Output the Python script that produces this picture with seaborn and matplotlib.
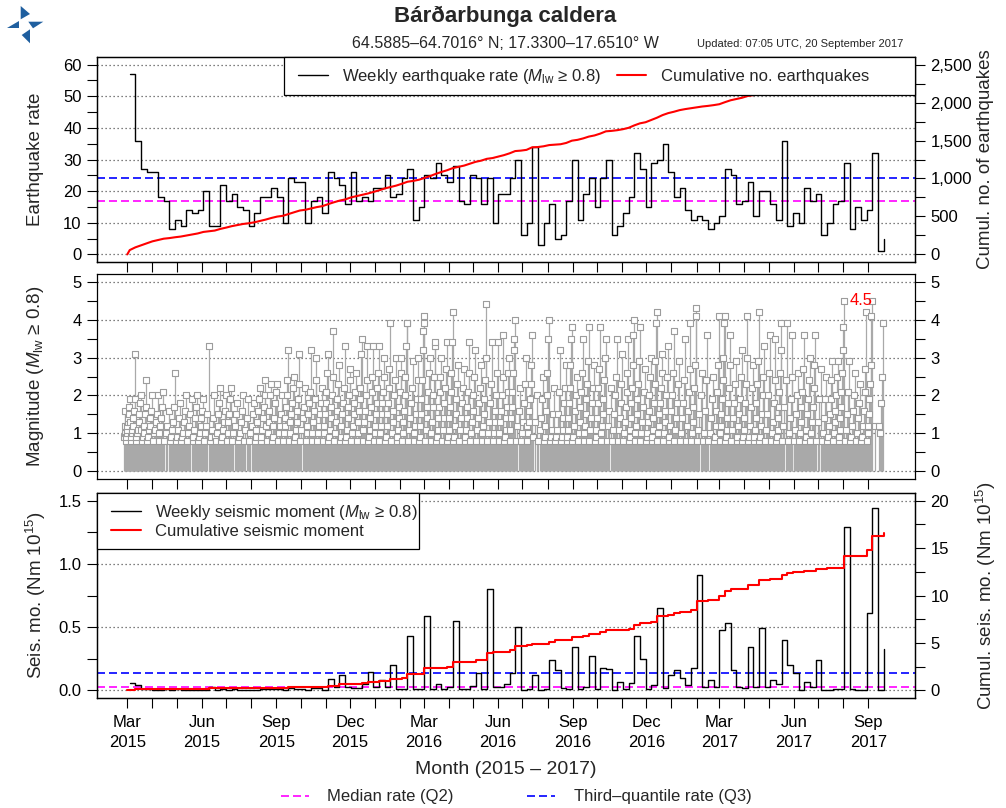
import numpy as np
import pandas as pd
import matplotlib
matplotlib.use("Agg")
import matplotlib.pyplot as plt
import matplotlib.dates as mdates
from matplotlib.lines import Line2D
from matplotlib.patches import Rectangle, Polygon
from matplotlib.ticker import MultipleLocator, FixedLocator, FixedFormatter, FuncFormatter
import seaborn as sns

# ---------------------------------------------------------------- data
RECORD_START = "2015-03-01"
LAST_WEEK_END = "2017-09-20"

# earthquakes per week (week ending on each date)
WEEKLY_RATE = [
    57, 36, 27, 26, 26, 18, 17, 8, 11, 9,
    14, 13, 14, 20, 9, 9, 22, 17, 19, 15,
    14, 9, 13, 18, 18, 21, 18, 10, 24, 23,
    23, 10, 17, 18, 13, 26, 24, 22, 16, 26,
    17, 18, 17, 21, 21, 25, 18, 19, 24, 27,
    11, 15, 25, 24, 29, 25, 23, 28, 17, 16,
    25, 24, 16, 24, 10, 19, 19, 24, 30, 6,
    10, 34, 3, 10, 16, 5, 6, 17, 30, 11,
    19, 24, 15, 24, 30, 6, 9, 13, 18, 32,
    27, 15, 29, 30, 35, 26, 18, 21, 14, 11,
    12, 11, 8, 10, 12, 27, 25, 16, 17, 23,
    12, 20, 20, 16, 11, 36, 9, 13, 10, 21,
    17, 19, 6, 10, 16, 17, 29, 8, 15, 11,
    14, 32, 1, 5,
]

# seismic moment released per week (Nm 10^15)
WEEKLY_MOMENT = [
    0.06, 0.04, 0.008, 0.01, 0.006, 0.006, 0.008, 0.003, 0.01, 0.004,
    0.006, 0.004, 0.006, 0.006, 0.03, 0.004, 0.008, 0.006, 0.008, 0.004,
    0.006, 0.004, 0.004, 0.008, 0.01, 0.008, 0.01, 0.004, 0.02, 0.01,
    0.015, 0.005, 0.02, 0.02, 0.006, 0.09, 0.03, 0.12, 0.03, 0.02,
    0.02, 0.05, 0.145, 0.03, 0.085, 0.03, 0.20, 0.015, 0.015, 0.43,
    0.012, 0.015, 0.59, 0.012, 0.05, 0.012, 0.03, 0.55, 0.01, 0.01,
    0.035, 0.14, 0.01, 0.80, 0.03, 0.03, 0.05, 0.14, 0.50, 0.005,
    0.015, 0.12, 0.005, 0.01, 0.24, 0.16, 0.02, 0.01, 0.34, 0.008,
    0.03, 0.27, 0.01, 0.18, 0.17, 0.004, 0.07, 0.015, 0.06, 0.43,
    0.25, 0.01, 0.04, 0.65, 0.02, 0.12, 0.16, 0.10, 0.04, 0.18,
    0.91, 0.03, 0.08, 0.03, 0.48, 0.53, 0.16, 0.03, 0.02, 0.34,
    0.03, 0.49, 0.03, 0.08, 0.05, 0.40, 0.20, 0.14, 0.005, 0.07,
    0.03, 0.24, 0.004, 0.003, 0.01, 0.01, 1.29, 0.01, 0.006, 0.004,
    0.61, 1.44, 0.001, 0.33,
]

# magnitudes recorded in each week (largest first)
WEEKLY_MAGNITUDES = [
    "1.9 1.7 1.5 1.4 1.3 1.2 1.1 1.0 0.9 0.8 1.6 1.2 1.0 0.9",
    "3.1 1.9 1.6 1.4 1.2 1.1 1.0 0.9 0.8 1.3",
    "2.0 1.8 1.5 1.3 1.1 1.0 0.9 0.8",
    "2.4 1.7 1.5 1.2 1.0 0.9 0.8 1.1",
    "2.0 1.6 1.4 1.2 1.1 0.9 0.8",
    "2.0 1.5 1.3 1.1 1.0 0.8",
    "2.1 1.7 1.4 1.2 1.0 0.8",
    "1.6 1.2 1.0 0.8",
    "2.6 1.7 1.3 1.1 0.9 0.8",
    "1.8 1.4 1.1 0.9 0.8",
    "2.0 1.6 1.3 1.0 0.9 0.8",
    "1.9 1.5 1.2 1.0 0.8",
    "2.0 1.7 1.4 1.1 0.9 0.8",
    "1.9 1.6 1.4 1.2 1.0 0.9 0.8",
    "3.3 1.5 1.2 1.0 0.8",
    "2.0 1.4 1.1 0.9 0.8",
    "2.2 1.8 1.5 1.2 1.0 0.8 0.9",
    "2.0 1.6 1.3 1.1 0.9 0.8",
    "2.2 1.9 1.5 1.3 1.0 0.8",
    "1.8 1.5 1.2 1.0 0.8",
    "2.0 1.6 1.3 1.0 0.9 0.8",
    "1.9 1.4 1.1 0.8",
    "1.8 1.5 1.2 1.0 0.8",
    "2.2 1.9 1.6 1.3 1.1 0.9 0.8",
    "2.4 2.0 1.7 1.4 1.1 0.9 0.8",
    "2.3 2.0 1.6 1.3 1.0 0.8 1.2",
    "2.3 2.1 1.8 1.4 1.2 0.9 0.8",
    "2.0 1.5 1.2 1.0 0.8",
    "3.2 2.4 2.0 1.7 1.4 1.2 1.0 0.8",
    "2.5 2.2 1.8 1.5 1.3 1.0 0.8",
    "3.1 2.3 1.9 1.6 1.3 1.1 0.9 0.8",
    "2.2 1.7 1.4 1.1 0.8",
    "3.2 2.1 1.8 1.5 1.2 1.0 0.8",
    "3.0 2.4 1.9 1.6 1.3 1.0 0.8",
    "2.2 1.8 1.5 1.2 1.0 0.8",
    "3.1 2.6 2.1 1.8 1.5 1.2 1.0 0.8",
    "3.7 2.5 2.0 1.7 1.4 1.1 0.9 0.8",
    "2.8 2.3 1.9 1.6 1.3 1.0 0.8",
    "3.3 2.2 1.8 1.5 1.2 0.9 0.8",
    "2.7 2.4 2.0 1.7 1.4 1.1 0.9 0.8",
    "2.6 2.1 1.8 1.5 1.2 1.0 0.8",
    "3.5 3.1 2.2 1.9 1.6 1.3 1.0 0.8",
    "3.3 2.4 2.0 1.6 1.3 1.1 0.8",
    "3.3 2.5 2.1 1.7 1.4 1.1 0.9 0.8",
    "3.3 2.6 2.2 1.8 1.5 1.2 1.0 0.8",
    "3.0 2.5 2.1 1.8 1.5 1.2 1.0 0.8",
    "3.9 2.7 2.2 1.8 1.5 1.2 0.9 0.8",
    "3.0 2.4 2.0 1.6 1.3 1.0 0.8",
    "3.0 2.6 2.1 1.7 1.4 1.1 0.9 0.8",
    "3.9 3.9 3.3 2.5 2.0 1.6 1.3 1.0 0.8",
    "2.9 2.2 1.8 1.4 1.1 0.8",
    "3.0 2.4 1.9 1.5 1.2 1.0 0.8",
    "4.1 3.9 3.7 3.2 2.4 1.9 1.5 1.2 0.9 0.8",
    "3.0 2.6 2.1 1.7 1.4 1.1 0.8",
    "3.4 3.3 2.5 2.0 1.7 1.3 1.0 0.8",
    "3.0 2.5 2.1 1.7 1.4 1.1 0.9 0.8",
    "3.4 2.7 2.2 1.8 1.4 1.1 0.8",
    "4.2 3.4 2.6 2.1 1.7 1.4 1.1 0.9 0.8",
    "2.8 2.3 1.9 1.5 1.2 0.9 0.8",
    "2.7 2.2 1.8 1.4 1.1 0.8",
    "3.4 2.6 2.1 1.7 1.4 1.1 0.9 0.8",
    "3.2 2.5 2.0 1.6 1.3 1.0 0.8",
    "2.8 2.2 1.8 1.4 1.1 0.8",
    "4.4 3.0 2.4 1.9 1.5 1.2 1.0 0.8",
    "3.4 2.3 1.8 1.3 1.0 0.8",
    "3.4 2.6 2.0 1.6 1.3 1.0 0.8",
    "3.6 2.5 2.0 1.6 1.3 1.0 0.8",
    "3.0 2.6 2.1 1.7 1.4 1.1 0.9 0.8",
    "4.0 3.5 3.2 2.6 2.1 1.7 1.4 1.1 0.8",
    "2.2 1.6 1.2 0.8",
    "3.0 2.3 1.8 1.3 1.0 0.8",
    "3.6 2.8 2.3 1.9 1.6 1.3 1.0 0.8 1.2",
    "2.0 1.3 0.9",
    "2.5 1.9 1.4 1.1 0.8",
    "4.0 3.5 2.6 2.0 1.6 1.2 0.9 0.8",
    "2.2 1.5 1.1 0.9 0.8",
    "3.2 2.1 1.5 1.1 0.9 0.8",
    "2.8 2.2 1.8 1.4 1.1 0.9 0.8",
    "3.8 3.5 2.8 2.2 1.8 1.4 1.1 0.9 0.8",
    "2.5 2.0 1.6 1.2 0.9 0.8",
    "3.5 2.6 2.1 1.7 1.3 1.0 0.8",
    "3.8 2.9 2.3 1.9 1.5 1.2 1.0 0.8",
    "2.8 2.2 1.8 1.4 1.1 0.8",
    "3.8 2.7 2.2 1.8 1.4 1.1 0.9 0.8",
    "3.5 3.0 2.4 1.9 1.5 1.2 1.0 0.8",
    "2.2 1.6 1.2 0.8",
    "3.5 2.5 2.0 1.5 1.1 0.8",
    "3.1 2.3 1.8 1.4 1.1 0.8",
    "3.5 2.6 2.1 1.7 1.3 1.0 0.8",
    "4.0 3.6 2.8 2.2 1.8 1.4 1.1 0.9 0.8",
    "3.8 2.9 2.3 1.9 1.5 1.2 1.0 0.8",
    "2.7 2.1 1.7 1.3 1.0 0.8",
    "3.0 2.5 2.0 1.6 1.3 1.0 0.9 0.8",
    "4.2 3.9 2.9 2.3 1.8 1.4 1.1 0.9 0.8",
    "3.1 2.6 2.2 1.8 1.5 1.2 1.0 0.8",
    "3.3 2.5 2.0 1.6 1.3 1.0 0.8",
    "3.7 2.6 2.0 1.6 1.2 0.9 0.8",
    "2.9 2.3 1.8 1.4 1.1 0.8",
    "3.5 2.4 1.8 1.4 1.0 0.8",
    "3.9 2.7 2.1 1.6 1.2 0.8",
    "4.3 4.1 2.8 2.2 1.7 1.3 1.0 0.8",
    "2.6 2.0 1.5 1.1 0.8",
    "3.6 2.4 1.6 1.0 0.8",
    "2.5 1.9 1.4 1.0 0.8",
    "4.1 2.8 2.1 1.6 1.2 0.9 0.8",
    "4.1 3.9 3.0 2.4 1.9 1.5 1.2 1.0 0.8",
    "3.6 2.8 2.2 1.8 1.4 1.1 0.9 0.8",
    "2.9 2.3 1.8 1.4 1.1 0.8",
    "3.2 2.5 1.9 1.5 1.2 0.9 0.8",
    "4.1 3.0 2.3 1.8 1.4 1.1 0.9 0.8",
    "2.8 2.2 1.7 1.2 0.9 0.8",
    "4.2 2.9 2.3 1.8 1.4 1.1 0.9 0.8",
    "3.3 2.5 2.0 1.5 1.2 0.9 0.8",
    "3.6 2.6 2.0 1.5 1.1 0.8",
    "3.5 2.4 1.8 1.3 1.0 0.8",
    "3.9 3.2 2.6 2.1 1.7 1.4 1.1 0.9 0.8",
    "3.9 2.4 1.7 1.2 0.8",
    "3.6 2.5 1.9 1.4 1.0 0.8",
    "2.6 2.0 1.5 1.1 0.8",
    "3.6 2.7 2.1 1.7 1.3 1.0 0.8",
    "3.0 2.4 1.9 1.5 1.1 0.9 0.8",
    "3.6 2.8 2.2 1.7 1.3 1.0 0.8",
    "2.7 1.9 1.3 0.8",
    "2.5 1.9 1.4 1.0 0.8",
    "2.9 2.4 1.9 1.5 1.2 0.9 0.8",
    "2.9 2.5 2.0 1.6 1.3 1.0 0.8",
    "4.5 3.8 3.2 2.6 2.1 1.7 1.4 1.1 0.9 0.8",
    "2.9 2.1 1.5 1.1 0.8",
    "2.6 2.0 1.6 1.2 0.9 0.8",
    "2.3 1.8 1.4 1.0 0.8",
    "4.2 2.7 2.1 1.6 1.2 0.9 0.8",
    "4.5 4.1 2.8 2.3 1.9 1.5 1.2 1.0 0.8",
    "1.2",
    "3.9 2.5 1.8 1.0 1.2",
]

RATE_Q2, RATE_Q3 = 17, 24            # median / third quartile of weekly rate
MOMENT_Q2, MOMENT_Q3 = 0.03, 0.135   # median / third quartile of weekly moment

MONTH_TICKS = pd.date_range("2015-03-01", "2017-09-01", freq="MS")

# ---------------------------------------------------------------- tables
weeks = pd.date_range(end=LAST_WEEK_END, periods=len(WEEKLY_RATE), freq="7D")
rate_df = pd.DataFrame({"week": weeks, "rate": WEEKLY_RATE})
moment_df = pd.DataFrame({"week": weeks, "moment": WEEKLY_MOMENT})

cum_df = pd.DataFrame({
    "time": [pd.Timestamp(RECORD_START)] + list(weeks),
    "count": [0] + list(np.cumsum(WEEKLY_RATE)),
    "moment": [0.0] + list(np.cumsum(WEEKLY_MOMENT)),
})

rows = []
for wk, text in zip(weeks, WEEKLY_MAGNITUDES):
    mags = [float(v) for v in text.split()]
    n = len(mags)
    for j, m in enumerate(mags):
        rows.append((wk - pd.Timedelta(days=7 * (j + 0.5) / n), m))
events = pd.DataFrame(rows, columns=["time", "mag"]).sort_values("time").reset_index(drop=True)

# ---------------------------------------------------------------- style
sns.set_theme(style="ticks")
plt.rcParams["font.family"] = ["Liberation Sans", "DejaVu Sans"]
plt.rcParams["mathtext.fontset"] = "custom"
plt.rcParams["mathtext.rm"] = "Liberation Sans"
plt.rcParams["mathtext.it"] = "Liberation Sans:italic"
plt.rcParams["mathtext.bf"] = "Liberation Sans:bold"
plt.rcParams["axes.edgecolor"] = "black"
plt.rcParams["axes.linewidth"] = 0.9

W, H = 1006, 808
fig = plt.figure(figsize=(W / 100, H / 100), dpi=100)


def fx(px):
    return px / W


def fy(py):
    return 1 - py / H


AX_L, AX_R = 97, 915
PANEL_H = 205
ax1 = fig.add_axes([fx(AX_L), fy(262), (AX_R - AX_L) / W, PANEL_H / H])
ax2 = fig.add_axes([fx(AX_L), fy(479), (AX_R - AX_L) / W, PANEL_H / H])
ax3 = fig.add_axes([fx(AX_L), fy(698), (AX_R - AX_L) / W, PANEL_H / H])
ax1r = ax1.twinx()
ax3r = ax3.twinx()

x_lo = mdates.date2num(pd.Timestamp("2015-03-01")) - 37.4
x_hi = mdates.date2num(pd.Timestamp("2017-09-01")) + 57.7

GRID = dict(color="#555555", linestyle=(0, (1, 2.2)), linewidth=0.9)
TICKS = dict(direction="out", length=7, width=0.8, labelsize=12, colors="black", pad=4)
Q2_STYLE = dict(color="#ff00ff", linestyle=(0, (4.8, 2.4)), linewidth=1.2)
Q3_STYLE = dict(color="#0000ff", linestyle=(0, (4.8, 2.4)), linewidth=1.2)

# ---------------------------------------------------------------- panel 1: weekly rate
sns.lineplot(data=rate_df, x="week", y="rate", drawstyle="steps-post",
             color="black", linewidth=1.0, estimator=None, ax=ax1, zorder=3)
ax1.axhline(RATE_Q2, zorder=2, **Q2_STYLE)
ax1.axhline(RATE_Q3, zorder=2, **Q3_STYLE)
sns.lineplot(data=cum_df, x="time", y="count", color="red", linewidth=1.5,
             estimator=None, ax=ax1r)
ax1.set_ylim(-2.4, 62.4)
ax1r.set_ylim(-2.4 * 2500 / 60, 62.4 * 2500 / 60)
ax1.yaxis.set_major_locator(MultipleLocator(10))
ax1.yaxis.set_minor_locator(MultipleLocator(5))
ax1r.yaxis.set_major_locator(MultipleLocator(500))
ax1r.yaxis.set_minor_locator(MultipleLocator(250))
ax1r.yaxis.set_major_formatter(FuncFormatter(lambda v, p: f"{int(v):,}"))

# ---------------------------------------------------------------- panel 2: magnitudes
ax2.vlines(events["time"], 0, events["mag"], color="#a9a9a9", linewidth=0.9, zorder=2)
sns.scatterplot(data=events, x="time", y="mag", marker="s", s=24, color="white",
                edgecolor="#9c9c9c", linewidth=0.8, ax=ax2, zorder=3, legend=False)
top = events.loc[events["mag"].idxmax()]
ax2.annotate(f"{top['mag']:.1f}", xy=(mdates.date2num(top["time"]), top["mag"]),
             xytext=(4, 0), textcoords="offset points", color="red",
             fontsize=12, ha="left", va="center", zorder=4)
ax2.set_ylim(-0.2, 5.2)
ax2.yaxis.set_major_locator(MultipleLocator(1))
ax2.yaxis.set_minor_locator(MultipleLocator(0.5))

# ---------------------------------------------------------------- panel 3: seismic moment
sns.lineplot(data=moment_df, x="week", y="moment", drawstyle="steps-post",
             color="black", linewidth=1.0, estimator=None, ax=ax3, zorder=3)
ax3.axhline(MOMENT_Q2, zorder=2, **Q2_STYLE)
ax3.axhline(MOMENT_Q3, zorder=2, **Q3_STYLE)
sns.lineplot(data=cum_df, x="time", y="moment", drawstyle="steps-post", color="red",
             linewidth=1.5, estimator=None, ax=ax3r)
ax3.set_ylim(-0.06, 1.56)
ax3r.set_ylim(-0.8, 20.8)
ax3.yaxis.set_major_locator(MultipleLocator(0.5))
ax3.yaxis.set_minor_locator(MultipleLocator(0.25))
ax3.yaxis.set_major_formatter(FuncFormatter(lambda v, p: f"{v:.1f}"))
ax3r.yaxis.set_major_locator(MultipleLocator(5))
ax3r.yaxis.set_minor_locator(MultipleLocator(2.5))

# ---------------------------------------------------------------- shared axis cosmetics
month_nums = mdates.date2num(MONTH_TICKS)
month_labels = [d.strftime("%b\n%Y") if d.month in (3, 6, 9, 12) else "" for d in MONTH_TICKS]

for ax in (ax1, ax2, ax3, ax1r, ax3r):
    ax.set_xlim(x_lo, x_hi)
    ax.set_xlabel("")
    ax.set_ylabel("")
    for s in ax.spines.values():
        s.set_visible(True)
        s.set_color("black")
        s.set_linewidth(0.9)

for ax in (ax1, ax2, ax3):
    ax.grid(False)
    ax.yaxis.grid(True, which="major", **GRID)
    ax.set_axisbelow(True)
    ax.xaxis.set_major_locator(FixedLocator(month_nums))
    ax.xaxis.set_major_formatter(FixedFormatter(month_labels))
    ax.tick_params(axis="x", which="major", **TICKS)
    ax.tick_params(axis="y", which="both", left=True, **TICKS)
    ax.tick_params(axis="x", which="minor", bottom=False, top=False)

ax1.tick_params(axis="x", labelbottom=False)
ax2.tick_params(axis="x", labelbottom=False)
ax2.tick_params(axis="y", which="both", right=True, labelright=True)
ax3.tick_params(axis="x", labelbottom=True, pad=5)
for lab in ax3.get_xticklabels():
    lab.set_linespacing(1.45)

for ax in (ax1r, ax3r):
    ax.grid(False)
    ax.tick_params(axis="y", which="both", right=True, left=False, labelright=True, **TICKS)
    ax.tick_params(axis="x", which="both", bottom=False, top=False, labelbottom=False)

# ---------------------------------------------------------------- axis titles
YLAB = dict(fontsize=13.5, rotation=90, ha="center", va="center")
fig.text(fx(36), fy(159.5), "Earthquake rate", **YLAB)
fig.text(fx(986), fy(159.5), "Cumul. no. of earthquakes", **YLAB)
fig.text(fx(36), fy(376.5), "Magnitude ($M_{\\mathrm{lw}}$ ≥ 0.8)", **YLAB)
fig.text(fx(36), fy(595.5), "Seis. mo. (Nm 10$^{15}$)", **YLAB)
fig.text(fx(986), fy(595.5), "Cumul. seis. mo. (Nm 10$^{15}$)", **YLAB)
fig.text(fx(506), fy(770), "Month (2015 – 2017)", fontsize=14, ha="center", va="center")

# ---------------------------------------------------------------- titles
fig.text(fx(505), fy(16), "Bárðarbunga caldera", fontsize=16, fontweight="bold",
         ha="center", va="center")
fig.text(fx(505), fy(43), "64.5885–64.7016° N; 17.3300–17.6510° W", fontsize=11.5,
         ha="center", va="center")
fig.text(fx(903), fy(44), "Updated: 07:05 UTC, 20 September 2017", fontsize=8,
         ha="right", va="center")

# ---------------------------------------------------------------- legends
fig.add_artist(Rectangle((fx(284), fy(95)), (AX_R - 284) / W, 38 / H,
                         transform=fig.transFigure, facecolor="white",
                         edgecolor="black", linewidth=0.9, zorder=4))
fig.legend([Line2D([], [], color="black", lw=1.0), Line2D([], [], color="red", lw=1.5)],
           ["Weekly earthquake rate ($M_{\\mathrm{lw}}$ ≥ 0.8)", "Cumulative no. earthquakes"],
           ncol=2, loc="center left", bbox_to_anchor=(fx(298), fy(76)),
           frameon=False, borderpad=0, borderaxespad=0, fontsize=12,
           handlelength=1.77, handletextpad=0.9, columnspacing=0.9)

fig.add_artist(Rectangle((fx(AX_L), fy(549)), (419 - AX_L) / W, 56 / H,
                         transform=fig.transFigure, facecolor="white",
                         edgecolor="black", linewidth=0.9, zorder=4))
fig.legend([Line2D([], [], color="black", lw=1.0), Line2D([], [], color="red", lw=1.5)],
           ["Weekly seismic moment ($M_{\\mathrm{lw}}$ ≥ 0.8)", "Cumulative seismic moment"],
           ncol=1, loc="center left", bbox_to_anchor=(fx(110.7), fy(520.7)),
           frameon=False, borderpad=0, borderaxespad=0, fontsize=12,
           handlelength=1.83, handletextpad=0.8, labelspacing=0.1)

fig.legend([Line2D([], [], **Q2_STYLE), Line2D([], [], **Q3_STYLE)],
           ["Median rate (Q2)", "Third–quantile rate (Q3)"],
           ncol=2, loc="center", bbox_to_anchor=(fx(516), fy(797)),
           frameon=False, borderpad=0, borderaxespad=0, fontsize=12,
           handlelength=1.7, handletextpad=1.1, columnspacing=4.4)

# ---------------------------------------------------------------- logo
LOGO = "#1f5f9f"
for pts in (
    [(20.7, 6.0), (30.0, 14.0), (20.7, 19.3)],
    [(6.7, 28.3), (19.0, 28.3), (19.0, 20.7)],
    [(28.3, 21.7), (43.3, 21.7), (33.0, 28.3)],
    [(30.0, 29.3), (30.0, 43.3), (21.7, 35.0)],
):
    fig.add_artist(Polygon([(fx(x), fy(y)) for x, y in pts], closed=True,
                           transform=fig.transFigure, facecolor=LOGO,
                           edgecolor="none", zorder=5))

fig.savefig("out.png", dpi=100)
